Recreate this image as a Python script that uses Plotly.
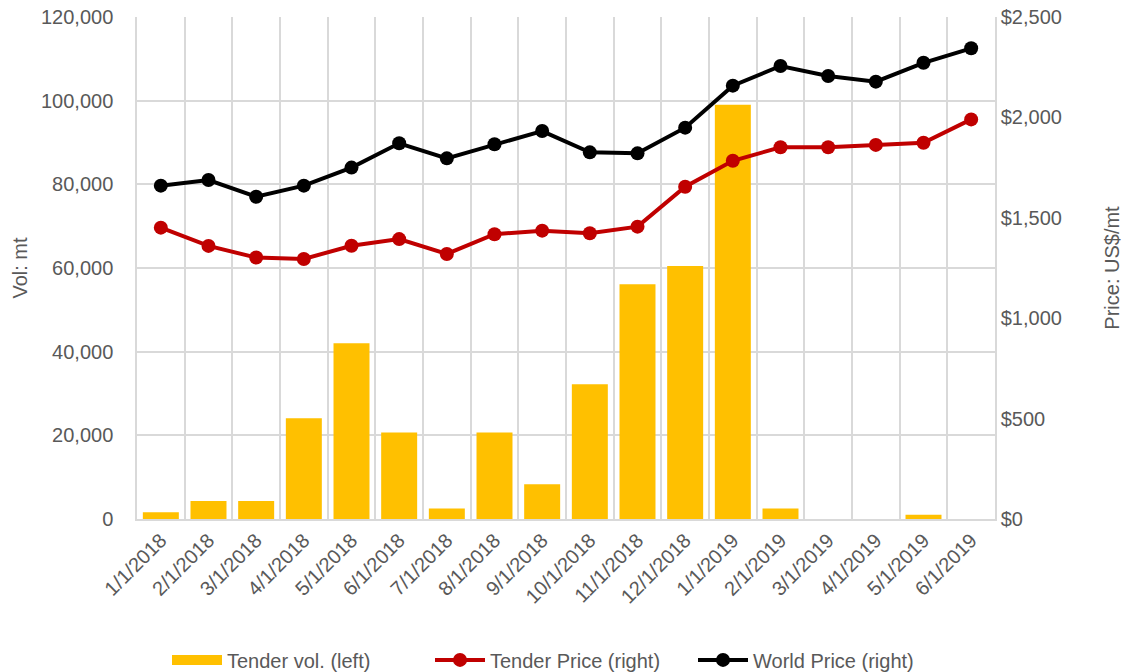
import plotly.graph_objects as go

dates = ["1/1/2018", "2/1/2018", "3/1/2018", "4/1/2018", "5/1/2018", "6/1/2018",
         "7/1/2018", "8/1/2018", "9/1/2018", "10/1/2018", "11/1/2018", "12/1/2018",
         "1/1/2019", "2/1/2019", "3/1/2019", "4/1/2019", "5/1/2019", "6/1/2019"]
tender_vol = [1600, 4300, 4300, 24100, 42000, 20700, 2500, 20700, 8300, 32200,
              56100, 60500, 99000, 2500, 0, 0, 1000, 0]
tender_price = [1451, 1360, 1302, 1295, 1361, 1394, 1320, 1418, 1436, 1423,
                1456, 1655, 1784, 1851, 1851, 1863, 1874, 1990]
world_price = [1660, 1688, 1605, 1660, 1750, 1871, 1796, 1866, 1932, 1826,
               1821, 1949, 2158, 2256, 2206, 2178, 2272, 2344]

FONT = "Liberation Sans, Arial"
GRAY = "#595959"
GRID = "#D9D9D9"
FS = 20
YELLOW = "#FFC000"

fig = go.Figure()
fig.add_trace(go.Bar(x=dates, y=tender_vol, name="Tender vol. (left)",
                     marker=dict(color=YELLOW, line=dict(width=0)), yaxis="y",
                     showlegend=False))
# legend-only entry drawn as a thick band, like the reference's swatch
fig.add_trace(go.Scatter(x=[None], y=[None], name="Tender vol. (left)",
                         mode="lines", line=dict(color=YELLOW, width=12),
                         yaxis="y"))
fig.add_trace(go.Scatter(x=dates, y=tender_price, name="Tender Price (right)",
                         mode="lines+markers", yaxis="y2",
                         line=dict(color="#C00000", width=4),
                         marker=dict(color="#C00000", size=14)))
fig.add_trace(go.Scatter(x=dates, y=world_price, name="World Price (right)",
                         mode="lines+markers", yaxis="y2",
                         line=dict(color="#000000", width=4),
                         marker=dict(color="#000000", size=14)))

fig.update_layout(
    width=1123, height=672,
    margin=dict(l=137, r=128, t=17, b=153, autoexpand=False),
    paper_bgcolor="white", plot_bgcolor="white",
    font=dict(family=FONT, size=FS, color=GRAY),
    bargap=0.245,
    showlegend=True,
    legend=dict(orientation="h", x=0.5, xanchor="center", xref="container",
                y=0.018, yanchor="middle", yref="container",
                font=dict(family=FONT, size=FS, color=GRAY), itemwidth=50,
                entrywidthmode="pixels", entrywidth=198,
                tracegroupgap=0),
    xaxis=dict(type="category", tickangle=-45, tickson="boundaries",
               range=[-0.5, len(dates) - 0.5],
               showgrid=True, gridcolor=GRID, gridwidth=1.5,
               showline=True, linecolor=GRID, linewidth=1.5,
               ticks="", automargin=False,
               tickfont=dict(family=FONT, size=FS, color=GRAY)),
    yaxis=dict(range=[0, 120000], dtick=20000, tickformat=",d",
               showgrid=True, gridcolor=GRID, gridwidth=1.5, zeroline=False,
               showline=True, linecolor=GRID, linewidth=1.5,
               ticks="", automargin=False, ticklabelstandoff=18,
               title=dict(text="Vol: mt", standoff=8,
                          font=dict(family=FONT, size=FS, color=GRAY)),
               tickfont=dict(family=FONT, size=FS, color=GRAY)),
    yaxis2=dict(range=[0, 2500], dtick=500, tickprefix="$", tickformat=",d",
                overlaying="y", side="right", showgrid=False, zeroline=False,
                showline=True, linecolor=GRID, linewidth=1.5,
                ticks="", automargin=False, ticklabelstandoff=0,
                title=dict(text="Price: US$/mt", standoff=53,
                           font=dict(family=FONT, size=FS, color=GRAY)),
                tickfont=dict(family=FONT, size=FS, color=GRAY)),
)

fig.write_html("out.html")
